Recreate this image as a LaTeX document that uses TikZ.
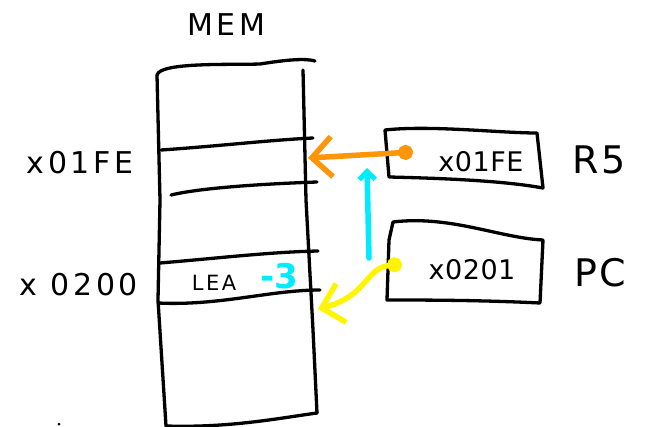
\documentclass[tikz,border=0pt]{standalone}
\usepackage{fontspec}
\setmainfont{DejaVu Sans}
\usetikzlibrary{arrows.meta}
\definecolor{penorange}{RGB}{255,150,10}
\definecolor{pencyan}{RGB}{0,235,255}
\definecolor{penyellow}{RGB}{255,245,0}
\begin{document}
\begin{tikzpicture}[x=1pt,y=-1pt,
  ink/.style={line width=3.3pt,line cap=round,line join=round,black},
  hand/.style={font=\fontsize{30}{30}\selectfont\addfontfeatures{LetterSpace=12},inner sep=0pt},
  reglabel/.style={font=\fontsize{38}{38}\selectfont\addfontfeatures{LetterSpace=6},inner sep=0pt},
  regtext/.style={font=\fontsize{27}{27}\selectfont\addfontfeatures{LetterSpace=2},inner sep=0pt},
  small/.style={font=\fontsize{21}{21}\selectfont\addfontfeatures{LetterSpace=12},inner sep=0pt},
  pointer/.style={line width=5.5pt,line cap=round,
    {Circle[length=15pt,width=15pt]}-{Straight Barb[length=20pt,width=40pt,line width=5.5pt]}}]
\useasboundingbox (0,0) rectangle (656,426);
\fill[white] (0,0) rectangle (656,426);

% memory column
\draw[ink] (157,75) .. controls (160,62) and (230,65) .. (260,64)
  .. controls (285,60) and (305,58) .. (315,61);
\draw[ink] (157,75) -- (160,200) -- (158,300) -- (166,426);
\draw[ink] (303,70) -- (306,200) -- (313,330) -- (317,413);
\draw[ink] (166,426) .. controls (230,428) and (280,418) .. (317,413);
% cell borders
\draw[ink] (161,150) .. controls (220,146) and (270,140) .. (313,138);
\draw[ink] (171,195) .. controls (200,188) and (260,184) .. (317,182);
\draw[ink] (160,263) .. controls (220,258) and (270,252) .. (318,251);
\draw[ink] (158,303) .. controls (220,306) and (270,290) .. (320,290);
\node[hand] (mem) at (226,25) {MEM};
\node[hand] (a1fe) at (80,163) {x01FE};
\node[hand] (a200) at (79,285) {x 0200};
\node[small] (lea) at (214,283) {LEA};
\node[font=\bfseries\fontsize{34}{34}\selectfont,text=pencyan,inner sep=0pt] (off) at (279,276) {-3};

% registers
\draw[ink] (385,130) .. controls (430,125) and (500,133) .. (537,133)
  -- (543,188) .. controls (500,180) and (430,178) .. (389,177) -- cycle;
\draw[ink] (393,222) .. controls (450,215) and (500,238) .. (543,240)
  -- (540,303) .. controls (480,300) and (420,300) .. (387,300) -- (389,240) -- cycle;
\node[regtext] (r5val) at (481,162) {x01FE};
\node[regtext] (pcval) at (472,270) {x0201};
\node[reglabel] (r5) at (599,160) {R5};
\node[reglabel] (pc) at (600,273) {PC};

% pointers
\coordinate (r5src) at (413,152);
\coordinate (r5dst) at (308,158);
\coordinate (pcsrc) at (402,264);
\coordinate (pcdst) at (318,309);
\coordinate (incfrom) at (369,258);
\coordinate (incto) at (367,168);
\draw[pointer,penorange] (r5src) -- (r5dst);
\draw[pointer,penyellow] (pcsrc) .. controls (365,268) and (368,296) .. (pcdst);
\draw[line width=5.5pt,line cap=round,pencyan,-{Straight Barb[length=8pt,width=16pt,line width=5pt]}] (incfrom) -- (incto);
\fill (59,424) circle (1.5pt);
\end{tikzpicture}
\end{document}
